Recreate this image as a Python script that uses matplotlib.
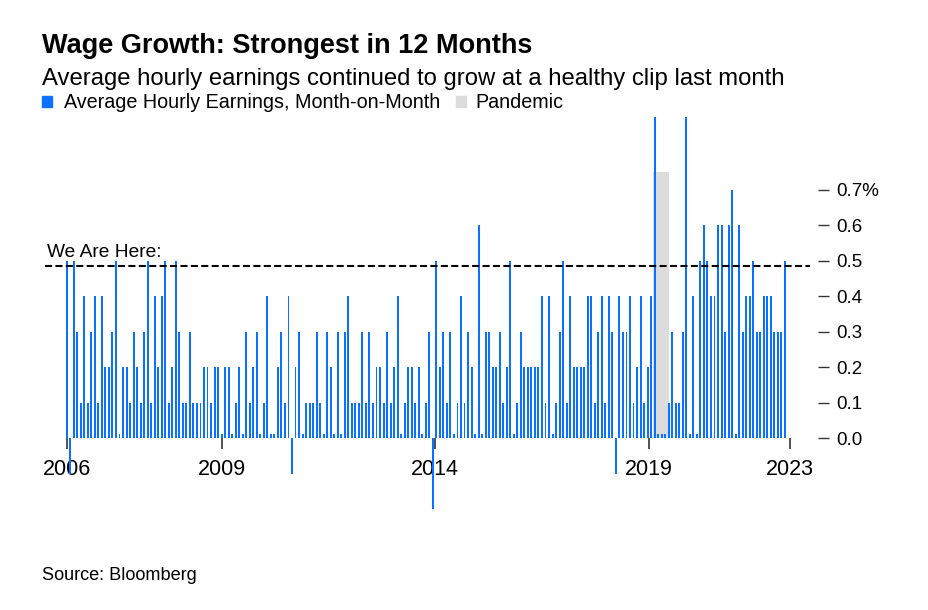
import numpy as np
import matplotlib.pyplot as plt
from matplotlib.patches import Rectangle

plt.rcParams['font.family'] = ['Liberation Sans', 'DejaVu Sans']

# month-on-month change in average hourly earnings (%), one value per month
ahe_mom = [
    0.5, -0.1, 0.5, 0.3, 0.1, 0.4, 0.1, 0.3, 0.4, 0.1,
    0.4, 0.2, 0.2, 0.3, 0.5, 0.0, 0.2, 0.2, 0.1, 0.3,
    0.2, 0.1, 0.3, 0.5, 0.1, 0.4, 0.2, 0.4, 0.5, 0.1,
    0.2, 0.5, 0.3, 0.1, 0.1, 0.3, 0.1, 0.1, 0.1, 0.2,
    0.2, 0.1, 0.2, 0.2, 0.0, 0.2, 0.2, 0.0, 0.1, 0.2,
    0.0, 0.3, 0.1, 0.2, 0.3, 0.0, 0.1, 0.4, 0.0, 0.0,
    0.2, 0.3, 0.1, 0.4, -0.1, 0.2, 0.3, 0.0, 0.1, 0.1,
    0.1, 0.3, 0.1, 0.0, 0.3, 0.2, 0.0, 0.3, 0.0, 0.3,
    0.4, 0.1, 0.1, 0.1, 0.3, 0.1, 0.3, 0.1, 0.2, 0.2,
    0.1, 0.3, 0.1, 0.2, 0.4, 0.0, 0.1, 0.2, 0.2, 0.1,
    0.2, 0.0, 0.1, 0.3, -0.2, 0.5, 0.2, 0.3, 0.1, 0.3,
    0.0, 0.1, 0.4, 0.1, 0.3, 0.2, 0.0, 0.6, 0.0, 0.3,
    0.3, 0.2, 0.2, 0.3, 0.1, 0.2, 0.5, 0.0, 0.1, 0.3,
    0.2, 0.2, 0.2, 0.2, 0.2, 0.4, 0.1, 0.4, 0.0, 0.1,
    0.3, 0.5, 0.1, 0.4, 0.2, 0.2, 0.2, 0.2, 0.4, 0.4,
    0.1, 0.3, 0.4, 0.1, 0.4, 0.3, -0.1, 0.4, 0.3, 0.3,
    0.4, 0.1, 0.2, 0.4, 0.1, 0.2, 0.4, 4.7, 0.0, 0.0,
    0.0, 0.1, 0.3, 0.1, 0.1, 0.3, 1.0, 0.0, 0.4, 0.0,
    0.5, 0.6, 0.5, 0.4, 0.4, 0.6, 0.6, 0.3, 0.6, 0.7,
    0.0, 0.6, 0.3, 0.4, 0.4, 0.5, 0.3, 0.3, 0.4, 0.4,
    0.4, 0.3, 0.3, 0.3, 0.5,
]

# x axis labels, positions in months from the first bar
year_labels = ["2006", "2009", "2014", "2019", "2023"]
year_pos = [0, 44.1, 104.6, 165.4, 205.5]

y_ticks = [0.0, 0.1, 0.2, 0.3, 0.4, 0.5, 0.6, 0.7]
y_labels = ["0.0", "0.1", "0.2", "0.3", "0.4", "0.5", "0.6", "0.7%"]

# pandemic shading (months from first bar) and its height
pandemic_start, pandemic_end, pandemic_top = 166.5, 171.2, 0.75
we_are_here = 0.485

BLUE = "#0b72ff"
GREY = "#dcdcdc"
W, H = 929, 610

fig = plt.figure(figsize=(W / 100, H / 100), dpi=100)
ax = fig.add_axes([45 / W, 1 - 516.4 / H, (818 - 45) / W, (516.4 - 117) / H])

vals = np.array(ahe_mom)
x = np.arange(len(vals))
shown = np.where(vals == 0, 0.012, vals)  # zero months show as a tiny stub

ax.bar((pandemic_start + pandemic_end) / 2, pandemic_top,
       width=pandemic_end - pandemic_start, color=GREY, zorder=1)
ax.bar(x, shown, width=0.55, color=BLUE, zorder=2, linewidth=0)

ax.hlines(we_are_here, -6.16, 211.2, colors="black", linewidth=1.5,
          linestyles=(0, (3.4, 1.6)), zorder=3)
ax.text(-5.6, we_are_here + 0.015, "We Are Here:", fontsize=13.8,
        ha="left", va="bottom", color="black")

ax.set_xlim(-6.16, 213.4)
ax.set_ylim(-0.22, 0.905)

for s in ax.spines.values():
    s.set_visible(False)
ax.spines["bottom"].set_position(("data", 0))

ax.set_xticks(year_pos)
ax.set_xticklabels(year_labels, fontsize=15.5)
ax.tick_params(axis="x", length=8, width=1.2, color="#333333", pad=7)

ax.yaxis.tick_right()
ax.set_yticks(y_ticks)
ax.set_yticklabels(y_labels, fontsize=13.5)
ax.tick_params(axis="y", length=8, width=1.0, color="#333333", pad=5)

fig.text(42 / W, 1 - 53 / H, "Wage Growth: Strongest in 12 Months",
         fontsize=19.5, fontweight="bold", va="baseline")
fig.text(42 / W, 1 - 85 / H,
         "Average hourly earnings continued to grow at a healthy clip last month",
         fontsize=17.2, va="baseline")

fig.patches.append(Rectangle((42 / W, 1 - 107 / H), 10 / W, 11 / H,
                             transform=fig.transFigure, color=BLUE))
fig.text(64 / W, 1 - 108 / H, "Average Hourly Earnings, Month-on-Month",
         fontsize=14.2, va="baseline")
fig.patches.append(Rectangle((456 / W, 1 - 107 / H), 10 / W, 11 / H,
                             transform=fig.transFigure, color=GREY))
fig.text(475 / W, 1 - 108 / H, "Pandemic", fontsize=14.2, va="baseline")

fig.text(42 / W, 1 - 580 / H, "Source: Bloomberg", fontsize=13.1, va="baseline")

fig.savefig("out.png", dpi=100)
